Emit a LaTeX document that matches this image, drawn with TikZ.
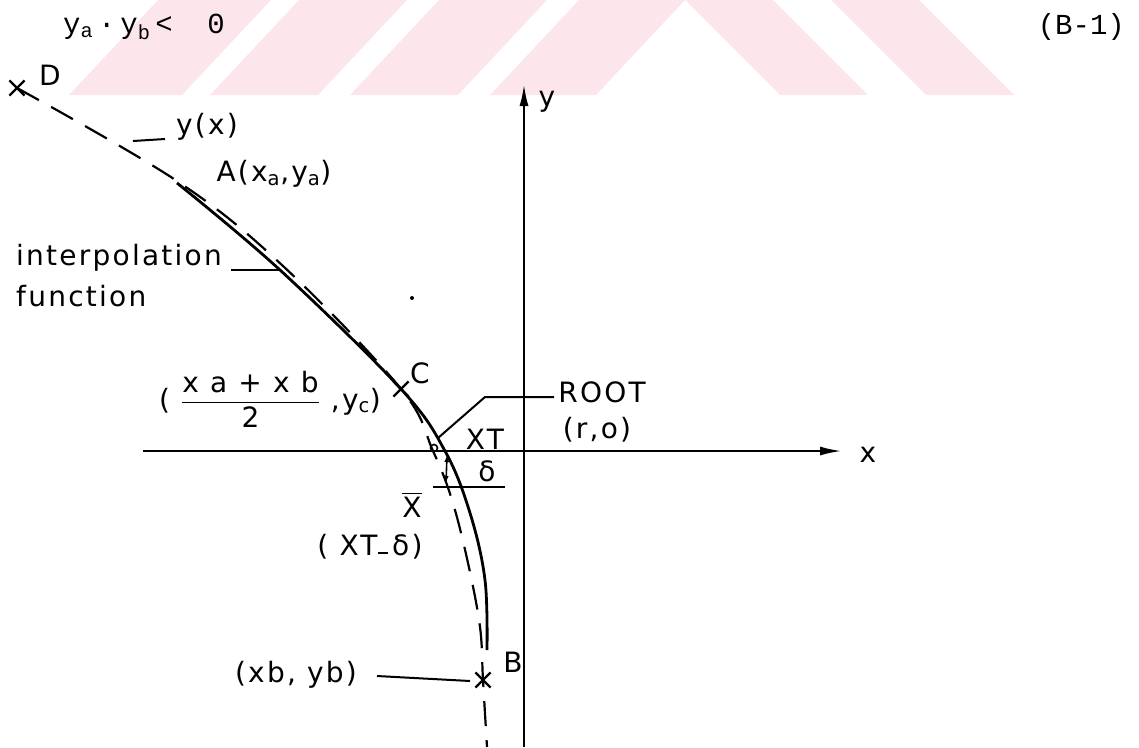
\documentclass[tikz,border=0pt]{standalone}
\usepackage{amsmath}
\usepackage{fontspec}
\setmainfont{DejaVu Sans}
\newfontfamily\handfont[LetterSpace=8]{DejaVu Sans}
\newfontfamily\typefont{Liberation Mono}
\usepackage{tikz}
\usetikzlibrary{arrows.meta,shapes.misc}
\definecolor{root@pink}{RGB}{252,230,236}
\newcommand{\labelfont}{\handfont\fontsize{28}{32}\selectfont}
\tikzset{
  rootfig/.style={
    x=1pt, y=-1pt,
    line width=2.4pt,
    every node/.style={font=\labelfont, inner sep=0pt}
  },
  axis/.style={-{Latex[length=22pt,width=9pt]}, line width=2.4pt},
  interp/.style={line width=2.8pt},          % interpolation function
  funcdash/.style={line width=2.2pt, dash pattern=on 25pt off 14pt}, % y(x)
  leader/.style={line width=2pt},
  xmark/.style={cross out, draw, line width=2.2pt, minimum size=13pt, inner sep=0pt},
  darrow/.style={{Latex[length=7pt,width=5pt]}-{Latex[length=7pt,width=5pt]}, line width=1.6pt},
  eqtext/.style={font=\typefont\fontsize{29}{32}\selectfont},
  wmark/.style={fill=root@pink}
}

\begin{document}
\begin{tikzpicture}[rootfig]
\useasboundingbox (0,0) rectangle (1139,747);

% faint stripes across the top
\foreach \bx/\bw in {69/113,210/108,350/108,490/106}
  \fill[wmark] (\bx,95) -- ++(\bw,0) -- ++(89,-95) -- ++(-\bw,0) -- cycle;
\foreach \tx in {685,831}
  \fill[wmark] (\tx,0) -- ++(88,0) -- ++(95,95) -- ++(-88,0) -- cycle;

% condition and equation number
\node[eqtext, anchor=west] (cond) at (62,27)
  {y\textsubscript{a}\,·\,y\textsubscript{b}\,<\ \ 0};
\node[eqtext, anchor=east] (eqno) at (1126,27) {(B-1)};

% axes
\coordinate (xs) at (143,451);
\coordinate (xe) at (842,451);
\coordinate (ys) at (524,747);
\coordinate (ye) at (524,84);
\draw[axis] (xs) -- (xe);
\draw[axis] (ys) -- (ye);
\node (xlab) at (868,455) {x};
\node (ylab) at (547,102) {y};

% marked points
\node[xmark] (D) at (17,88) {};
\node[xmark] (C) at (401,389) {};
\node[xmark] (B) at (483,680) {};
\coordinate (A) at (177,183);
\node (lblD) at (50,75) {D};
\node (lblC) at (420,373) {C};
\node (lblB) at (513,662) {B};

% true function y(x)
\draw[funcdash] plot[smooth, tension=0.6] coordinates {(D.center) (177,181)
  (283,266) (C.center) (433,451) (452,500) (468,563) (480,627) (B.center) (487,747)};

% interpolation function
\draw[interp] plot[smooth, tension=0.6] coordinates {(A) (280,270) (C.center)
  (445,451) (470,513) (485,580) (487,650)};

% labels on the curves
\node (yx) at (207,127) {y(x)};
\coordinate (yxa) at (133,141);
\coordinate (yxb) at (165,139);
\draw[leader] (yxa) -- (yxb);
\node (lblA) at (274,174) {A(x\textsubscript{a},y\textsubscript{a})};

\node[anchor=west] (interpl) at (15,258) {interpolation};
\node[anchor=west] (func) at (15,296) {function};
\coordinate (ila) at (231,270);
\coordinate (ilb) at (280,270);
\draw[leader] (ila) -- (ilb);

\node[anchor=base west] (mid) at (158,409)
  {( $\dfrac{\text{x a + x b}}{\text{2}}$ ,y\textsubscript{c})};

% root and its label
\node (root) at (602,392) {ROOT};
\node (rpt) at (597,430) {(r,o)};
\coordinate (rla) at (554,397);
\coordinate (rknee) at (485,397);
\coordinate (rlb) at (438,438);
\draw[leader] (rla) -- (rknee) -- (rlb);
\node[circle, draw, line width=1.6pt, minimum size=7pt] (rootpt) at (434,448) {};

\node (xt) at (485,439) {XT};
\node (delta) at (487,471) {δ};
\coordinate (dla) at (433,487);
\coordinate (dlb) at (505,487);
\draw[leader] (dla) -- (dlb);
\coordinate (daa) at (447,455);
\coordinate (dab) at (446,483);
\draw[darrow] (daa) -- (dab);

\node (xbar) at (412,505) {$\overline{\text{X}}$};
\node (xtd) at (370,547) {( XT\rule[2pt]{10pt}{2.2pt}\,δ)};

% point B label
\node (bpt) at (296,675) {(xb, yb)};
\coordinate (bla) at (377,676);
\coordinate (blb) at (470,681);
\draw[leader] (bla) -- (blb);

\fill (412,298) circle (2);
\end{tikzpicture}
\end{document}
